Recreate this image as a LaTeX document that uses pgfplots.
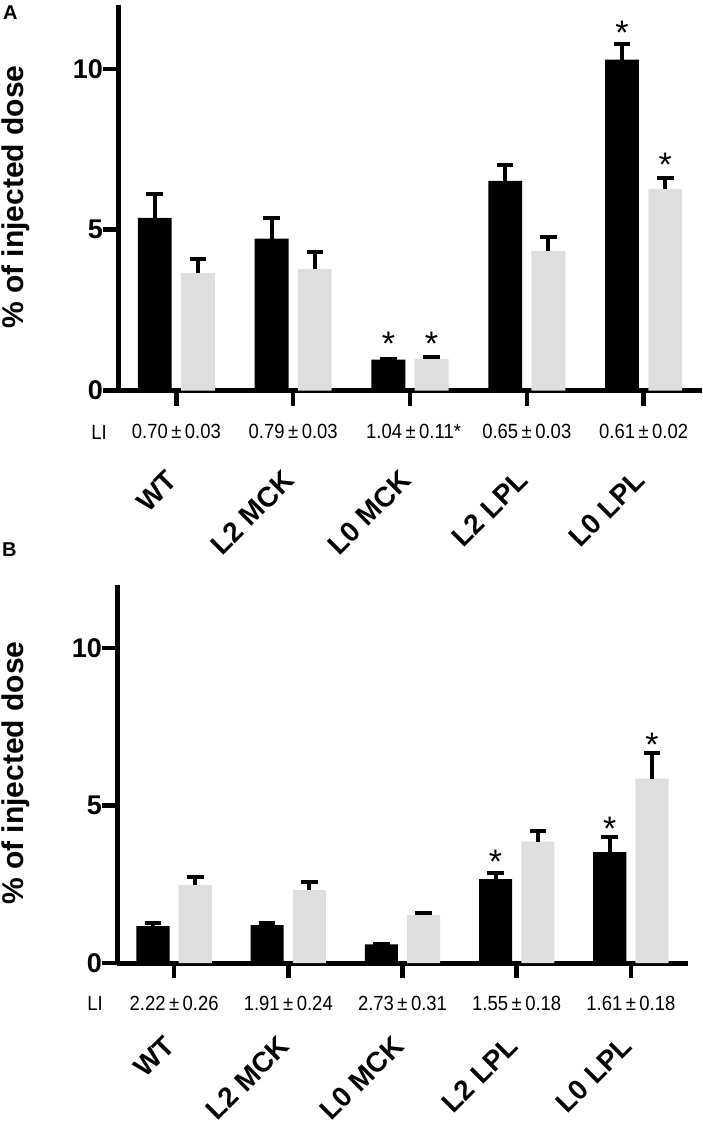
\documentclass[border=0pt]{standalone}
\usepackage{fontspec}
\setmainfont{Liberation Sans}
\newfontfamily\narrowfont[FakeStretch=0.9]{Liberation Sans}
\usepackage{pgfplots}
\pgfplotsset{compat=1.18}
\usepackage{pgfplotstable}
\definecolor{bargray}{RGB}{222,222,222}

% x = category position (0..4) shifted left (black) or right (grey) of the tick
\pgfplotstableread{
x y e
-0.185 5.37 0.74
0.815 4.72 0.63
1.815 0.96 0.02
2.815 6.52 0.50
3.815 10.29 0.49
}\Ablack
\pgfplotstableread{
x y e
0.185 3.66 0.44
1.185 3.77 0.54
2.185 0.98 0.07
3.185 4.33 0.45
4.185 6.26 0.34
}\Agray
\pgfplotstableread{
x y e
-0.185 1.17 0.09
0.815 1.20 0.08
1.815 0.59 0.01
2.815 2.66 0.19
3.815 3.52 0.48
}\Bblack
\pgfplotstableread{
x y e
0.185 2.47 0.26
1.185 2.31 0.26
2.185 1.52 0.08
3.185 3.85 0.34
4.185 5.85 0.83
}\Bgray

\pgfplotsset{
  panel/.style={
    scale only axis,
    xmin=-0.5, xmax=4.5, ymin=0, ymax=12,
    enlargelimits=false,
    axis x line=bottom, axis y line=left,
    axis line style={-, line width=5pt, line cap=butt, black},
    xtick={0,1,2,3,4}, xticklabels={},
    ytick={0,5,10},
    tick align=outside,
    major tick length=15pt,
    tick style={black, line width=4.5pt},
    yticklabel style={font=\bfseries\fontsize{27}{27}\selectfont, anchor=east, inner sep=0pt},
    /pgf/number format/assume math mode=true,
    clip=false,
  },
  errstyle/.style={error bars/.cd, y dir=plus, y explicit,
    error mark=-,
    error bar style={line width=4pt, black, line cap=butt},
    error mark options={rotate=90, line width=4pt, mark size=8.3pt, black}},
  blackbar/.style={ybar, bar width=0.29, bar shift=0pt, fill=black, draw=none, errstyle},
  graybar/.style={ybar, bar width=0.29, bar shift=0pt, fill=bargray, draw=none, errstyle},
  stars/.style={draw=none, mark=none, nodes near coords={*},
    every node near coord/.append style={font=\fontsize{34}{34}\selectfont, anchor=base, yshift=-19.4pt, inner sep=0pt, black}},
}
\tikzset{
  catlab/.style={anchor=north east, rotate=45, inner sep=0pt, font=\bfseries\fontsize{28}{28}\selectfont},
  lilab/.style={anchor=center, inner sep=0pt, font=\narrowfont\fontsize{20.5}{20.5}\selectfont},
}
\newcommand{\pmv}[2]{#1\kern3.5pt±\kern3.5pt#2}

\begin{document}
\begin{tikzpicture}
\path[use as bounding box] (0,0) rectangle (703pt,-1124pt);

% Panel A
\begin{axis}[panel, at={(118pt,-390.5pt)}, anchor=south west, width=584pt, height=386pt]
\addplot[blackbar] table[x=x, y=y, y error=e]{\Ablack};
\addplot[graybar] table[x=x, y=y, y error=e]{\Agray};
\addplot[stars] coordinates {(1.815,1.7) (2.185,1.7) (3.815,11.36) (4.185,7.27)};
\node[lilab] at ([yshift=-41pt]axis cs:0,0) {\pmv{0.70}{0.03}};
\node[lilab] at ([yshift=-41pt]axis cs:1,0) {\pmv{0.79}{0.03}};
\node[lilab] at ([yshift=-41pt]axis cs:2,0) {\pmv{1.04}{0.11}\rlap{*}};
\node[lilab] at ([yshift=-41pt]axis cs:3,0) {\pmv{0.65}{0.03}};
\node[lilab] at ([yshift=-41pt]axis cs:4,0) {\pmv{0.61}{0.02}};
\node[catlab] at ([xshift=-11pt,yshift=-78pt]axis cs:0,0) {WT};
\node[catlab] at ([xshift=-11pt,yshift=-78pt]axis cs:1,0) {L2 MCK};
\node[catlab] at ([xshift=-11pt,yshift=-78pt]axis cs:2,0) {L0 MCK};
\node[catlab] at ([xshift=-11pt,yshift=-78pt]axis cs:3,0) {L2 LPL};
\node[catlab] at ([xshift=-11pt,yshift=-78pt]axis cs:4,0) {L0 LPL};
\end{axis}

% Panel B
\begin{axis}[panel, at={(117pt,-963pt)}, anchor=south west, width=571pt, height=378pt]
\addplot[blackbar] table[x=x, y=y, y error=e]{\Bblack};
\addplot[graybar] table[x=x, y=y, y error=e]{\Bgray};
\addplot[stars] coordinates {(2.815,3.45) (3.815,4.51) (4.185,7.17)};
\node[lilab] at ([yshift=-40pt]axis cs:0,0) {\pmv{2.22}{0.26}};
\node[lilab] at ([yshift=-40pt]axis cs:1,0) {\pmv{1.91}{0.24}};
\node[lilab] at ([yshift=-40pt]axis cs:2,0) {\pmv{2.73}{0.31}};
\node[lilab] at ([yshift=-40pt]axis cs:3,0) {\pmv{1.55}{0.18}};
\node[lilab] at ([yshift=-40pt]axis cs:4,0) {\pmv{1.61}{0.18}};
\node[catlab] at ([xshift=-11pt,yshift=-71pt]axis cs:0,0) {WT};
\node[catlab] at ([xshift=-11pt,yshift=-71pt]axis cs:1,0) {L2 MCK};
\node[catlab] at ([xshift=-11pt,yshift=-71pt]axis cs:2,0) {L0 MCK};
\node[catlab] at ([xshift=-11pt,yshift=-71pt]axis cs:3,0) {L2 LPL};
\node[catlab] at ([xshift=-11pt,yshift=-71pt]axis cs:4,0) {L0 LPL};
\end{axis}

% labels outside axes
\node[anchor=north west, inner sep=0pt, font=\bfseries\fontsize{20}{20}\selectfont] at (3pt,-6pt) {A};
\node[anchor=north west, inner sep=0pt, font=\bfseries\fontsize{20}{20}\selectfont] at (2pt,-543pt) {B};
\node[rotate=90, inner sep=0pt, font=\bfseries\fontsize{30}{30}\selectfont] at (15.5pt,-197pt) {\% of injected dose};
\node[rotate=90, inner sep=0pt, font=\bfseries\fontsize{30}{30}\selectfont] at (15.5pt,-773pt) {\% of injected dose};
\node[lilab] at (99pt,-432pt) {LI};
\node[lilab] at (95pt,-1003pt) {LI};
\end{tikzpicture}
\end{document}
